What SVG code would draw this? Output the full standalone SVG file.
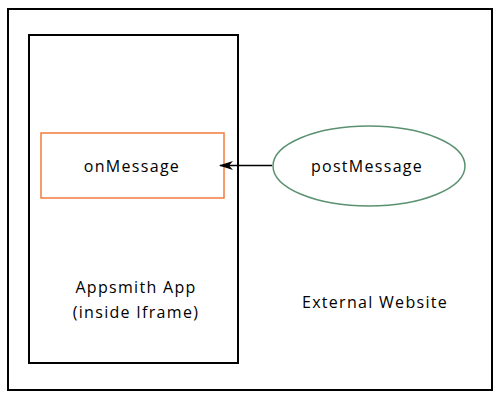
<svg xmlns="http://www.w3.org/2000/svg" width="500" height="400" viewBox="0 0 500 400">
<style>
text{font-family:"Open Sans","Liberation Sans",sans-serif;font-size:16px;letter-spacing:1.3px;fill:#000;text-anchor:middle}
.box{fill:#fff;stroke:#000;stroke-width:2}
</style>
<defs>
<marker id="ah" viewBox="0 0 14 10" refX="13" refY="5" markerWidth="14" markerHeight="10" markerUnits="userSpaceOnUse" orient="auto">
<path d="M0,0.5 L14,5 L0,9.5 L4,5 Z" fill="#000"/>
</marker>
</defs>
<rect width="500" height="400" fill="#fff"/>
<g id="external">
<rect class="box" x="8" y="9" width="484" height="381"/>
<text x="375" y="308">External Website</text>
</g>
<g id="appsmith">
<rect class="box" x="29" y="35" width="209" height="328"/>
<text x="136" y="293">Appsmith App</text>
<text x="136" y="318">(inside Iframe)</text>
</g>
<g id="onmessage">
<rect x="41" y="133" width="183" height="65" fill="#fff" stroke="#F47B3E" stroke-width="1.5"/>
<text x="132" y="171.5">onMessage</text>
</g>
<g id="postmessage">
<ellipse cx="369" cy="166" rx="96" ry="40" fill="#fff" stroke="#5A9170" stroke-width="1.5"/>
<text x="367" y="172">postMessage</text>
</g>
<g id="connectors">
<line x1="272" y1="165.5" x2="220" y2="165.5" stroke="#000" stroke-width="1.5" marker-end="url(#ah)"/>
</g>
</svg>
